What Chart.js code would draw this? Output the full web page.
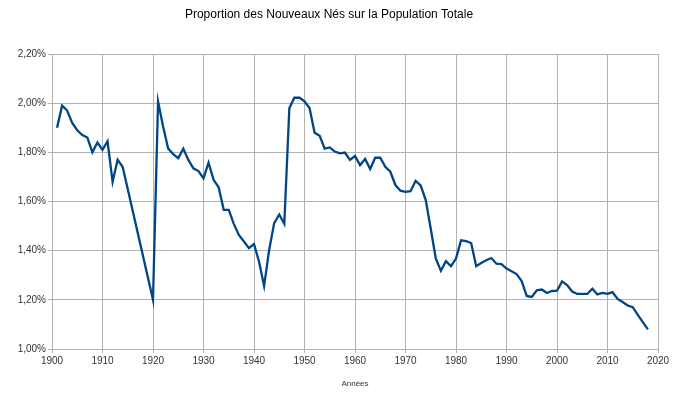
<!DOCTYPE html>
<html>
<head>
<meta charset="utf-8">
<script src="https://cdn.jsdelivr.net/npm/chart.js@4/dist/chart.umd.min.js"></script>
<style>
  html, body { margin: 0; padding: 0; background: #fff; }
  #wrap { width: 683px; height: 393px; }
</style>
</head>
<body>
<div id="wrap"><canvas id="birthChart"></canvas></div>
<script>
// Années 1901..2018, valeurs en % (null = année manquante 1915-1919)
var firstYear = 1901;
var birthShare = [
  1.90, 1.99, 1.97, 1.92, 1.89, 1.87, 1.86, 1.80, 1.84, 1.81,
  1.845, 1.68, 1.77, 1.74, null, null, null, null, null, 1.20,
  2.007, 1.905, 1.816, 1.793, 1.776, 1.815, 1.769, 1.735, 1.724, 1.694,
  1.758, 1.688, 1.658, 1.566, 1.566, 1.509, 1.464, 1.437, 1.410, 1.427,
  1.355, 1.256, 1.403, 1.512, 1.547, 1.509, 1.980, 2.022, 2.022, 2.007,
  1.980, 1.880, 1.867, 1.815, 1.820, 1.803, 1.796, 1.799, 1.769, 1.785,
  1.748, 1.773, 1.732, 1.778, 1.778, 1.741, 1.721, 1.667, 1.644, 1.639,
  1.642, 1.684, 1.665, 1.607, 1.489, 1.368, 1.318, 1.357, 1.337, 1.368,
  1.442, 1.439, 1.431, 1.337, 1.350, 1.361, 1.370, 1.347, 1.345, 1.327,
  1.316, 1.305, 1.276, 1.216, 1.212, 1.239, 1.242, 1.228, 1.236, 1.237,
  1.275, 1.260, 1.234, 1.224, 1.224, 1.224, 1.245, 1.222, 1.228, 1.224,
  1.231, 1.204, 1.191, 1.177, 1.170, 1.139, 1.109, 1.080
];
var years = birthShare.map(function(v, i) { return firstYear + i; });
var yTicks = [1.00, 1.20, 1.40, 1.60, 1.80, 2.00, 2.20];

document.addEventListener('DOMContentLoaded', function() {
    var points = years.map(function(y, i) { return { x: y, y: birthShare[i] }; });
    var ctx = document.getElementById('birthChart').getContext('2d');
    var gridColor = '#b3b3b3';
    new Chart(ctx, {
        type: 'line',
        data: {
            datasets: [{
                label: 'Proportion',
                data: points,
                borderColor: '#004586',
                borderWidth: 2.3,
                pointRadius: 0,
                tension: 0,
                spanGaps: true,
                fill: false
            }]
        },
        options: {
            responsive: true,
            maintainAspectRatio: false,
            animation: false,
            layout: { padding: { left: 0, right: 25, top: 0, bottom: 0 } },
            plugins: {
                legend: { display: false },
                tooltip: { enabled: false },
                title: {
                    display: true,
                    text: 'Proportion des Nouveaux Nés sur la Population Totale',
                    color: '#000',
                    font: { family: 'Liberation Sans', size: 12, weight: 'normal' },
                    padding: { top: 7, bottom: 32.6 }
                }
            },
            scales: {
                x: {
                    type: 'linear',
                    min: 1900,
                    max: 2020,
                    grid: { color: gridColor, tickLength: 4 },
                    border: { color: gridColor },
                    ticks: {
                        stepSize: 10,
                        color: '#333',
                        padding: 2,
                        font: { family: 'Liberation Sans', size: 10 },
                        callback: function(v) { return String(v); }
                    },
                    title: {
                        display: true,
                        text: 'Années',
                        color: '#333',
                        font: { family: 'Liberation Sans', size: 8 },
                        padding: { top: 4, bottom: 4 }
                    },
                    afterFit: function(s) { s.height = 44; }
                },
                y: {
                    min: 1.00,
                    max: 2.20,
                    grid: { color: gridColor, tickLength: 4 },
                    border: { color: gridColor },
                    afterBuildTicks: function(s) {
                        s.ticks = yTicks.map(function(v) { return { value: v }; });
                    },
                    ticks: {
                        color: '#333',
                        padding: 2,
                        font: { family: 'Liberation Sans', size: 10 },
                        callback: function(v) { return v.toFixed(2).replace('.', ',') + '%'; }
                    },
                    afterFit: function(s) { s.width = 52; }
                }
            }
        }
    });
});
</script>
</body>
</html>
